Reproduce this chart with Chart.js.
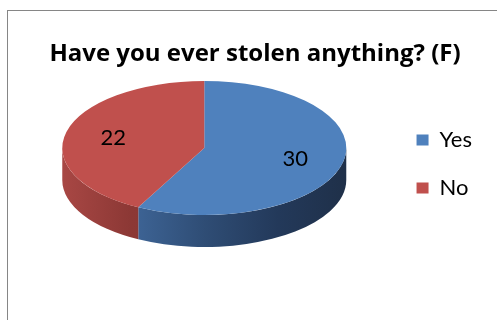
<!DOCTYPE html>
<html>
<head>
<meta charset="utf-8">
<script src="https://cdn.jsdelivr.net/npm/chart.js@4/dist/chart.umd.min.js"></script>
<style>
  html, body { margin: 0; padding: 0; background: #fff; }
  #wrap { position: relative; width: 497px; height: 320px; }
</style>
</head>
<body>
<div id="wrap"><canvas id="pieChart"></canvas></div>
<script>
const TITLE = 'Have you ever stolen anything? (F)';
const categories = ['Yes', 'No'];
const counts = [30, 22];
const sliceColors = ['#4f81bd', '#c0504d'];

const TILT = 0.472;   // vertical squash of the pie top
const DEPTH = 32;     // thickness of the pie in px

// side wall gradients, left -> right across the pie
const SIDE_STOPS = [
  [[0, '#4a76ad'], [0.24, '#3e6597'], [0.5, '#2f4d75'], [0.76, '#23395a'], [1, '#1f3049']],
  [[0, '#a84744'], [0.24, '#8c3835'], [1, '#7a302e']]
];

function visibleRanges(start, end) {
  // front half of the pie is angle 0..PI (canvas y down)
  const out = [];
  for (const k of [-2, 0, 2]) {
    const s = Math.max(start + k * Math.PI, 0);
    const e = Math.min(end + k * Math.PI, Math.PI);
    if (e > s) out.push([s, e]);
  }
  return out;
}

const pie3d = {
  id: 'pie3d',
  beforeDraw(chart) {
    const ctx = chart.ctx;
    ctx.save();
    ctx.strokeStyle = '#868686';
    ctx.lineWidth = 1;
    ctx.strokeRect(7.5, 10.5, 496, 400);
    ctx.fillStyle = '#000';
    ctx.font = 'bold 24px "Open Sans"';
    ctx.textAlign = 'center';
    ctx.textBaseline = 'middle';
    ctx.fillText(TITLE, 7 + 496 / 2, 54);
    ctx.restore();
  },
  beforeDatasetsDraw(chart) {
    const ctx = chart.ctx;
    const arcs = chart.getDatasetMeta(0).data;
    const { x: cx, y: cy, outerRadius: r } = arcs[0];
    ctx.save();
    ctx.translate(cx, cy - DEPTH / 2);
    ctx.scale(1, TILT);
    ctx.translate(-cx, -cy);
    const d = DEPTH / TILT;
    arcs.forEach((arc, i) => {
      visibleRanges(arc.startAngle, arc.endAngle).forEach(([s, e]) => {
        const g = ctx.createLinearGradient(cx - r, 0, cx + r, 0);
        SIDE_STOPS[i].forEach(([t, c]) => g.addColorStop(t, c));
        ctx.beginPath();
        ctx.arc(cx, cy, r, s, e);
        ctx.lineTo(cx + Math.cos(e) * r, cy + Math.sin(e) * r + d);
        ctx.arc(cx, cy + d, r, e, s, true);
        ctx.closePath();
        ctx.fillStyle = g;
        ctx.fill();
      });
    });
  },
  afterDatasetsDraw(chart) {
    const ctx = chart.ctx;
    ctx.restore();
    const arcs = chart.getDatasetMeta(0).data;
    ctx.save();
    ctx.fillStyle = '#000';
    ctx.font = '22px Lato';
    ctx.textAlign = 'center';
    ctx.textBaseline = 'middle';
    arcs.forEach((arc, i) => {
      const mid = (arc.startAngle + arc.endAngle) / 2;
      const rr = arc.outerRadius * 0.66;
      const x = arc.x + Math.cos(mid) * rr;
      const y = arc.y - DEPTH / 2 + Math.sin(mid) * rr * TILT;
      ctx.fillText(String(counts[i]), x, y);
    });
    ctx.restore();
  }
};

const ctx = document.getElementById('pieChart').getContext('2d');
const pieChart = new Chart(ctx, {
  type: 'pie',
  data: {
    labels: categories,
    datasets: [{
      data: counts,
      backgroundColor: sliceColors,
      borderWidth: 0,
      radius: 142
    }]
  },
  options: {
    responsive: true,
    maintainAspectRatio: false,
    animation: false,
    layout: {
      padding: { left: 18, right: 15, top: 82, bottom: 74 }
    },
    plugins: {
      tooltip: { enabled: false },
      legend: {
        position: 'right',
        labels: {
          color: '#000',
          font: { family: 'Lato', size: 22 },
          boxWidth: 12,
          boxHeight: 11,
          padding: 26
        }
      }
    }
  },
  plugins: [pie3d]
});
</script>
</body>
</html>
